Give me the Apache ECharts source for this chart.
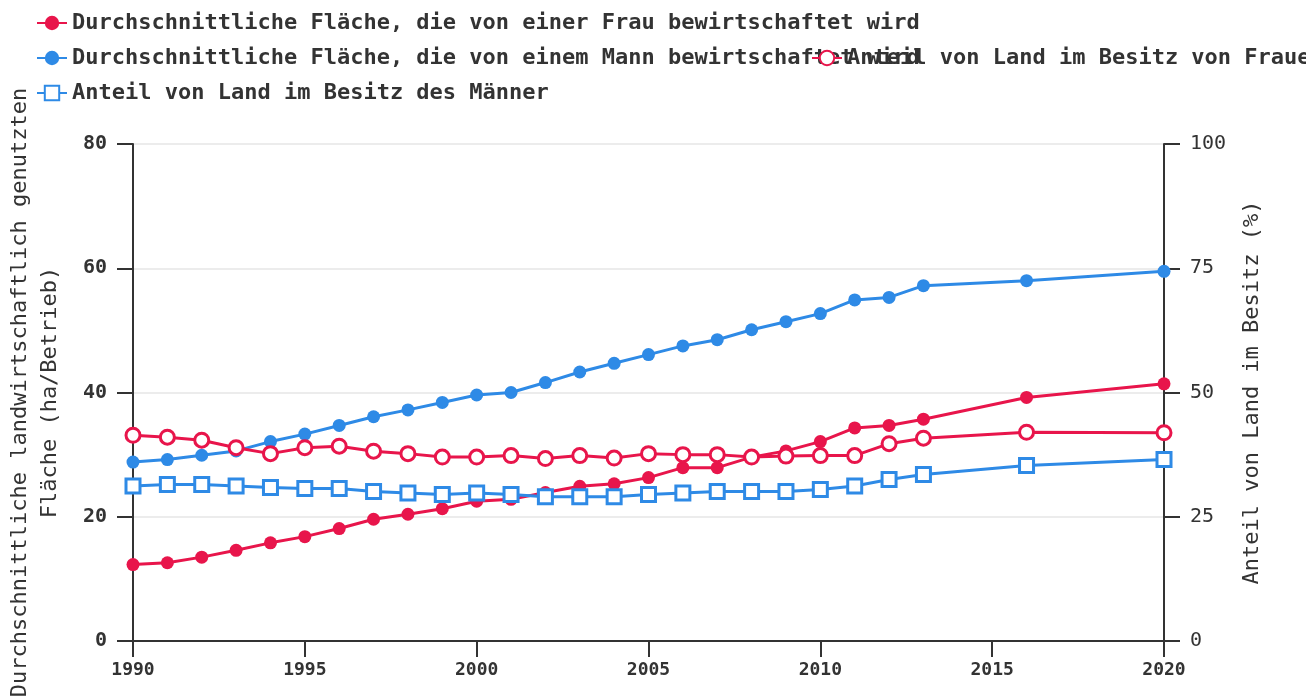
<!DOCTYPE html>
<html>
<head>
<meta charset="utf-8">
<script src="https://cdn.jsdelivr.net/npm/echarts@6/dist/echarts.min.js"></script>
<style>
html,body{margin:0;padding:0;background:#fff;}
#chart{width:1306px;height:696px;}
</style>
</head>
<body>
<div id="chart"></div>
<script>
const years = [1990,1991,1992,1993,1994,1995,1996,1997,1998,1999,2000,2001,2002,2003,2004,2005,2006,2007,2008,2009,2010,2011,2012,2013,2016,2020];
const areaWomen = [12.3,12.6,13.5,14.6,15.8,16.8,18.1,19.6,20.4,21.3,22.5,22.8,23.9,24.9,25.3,26.3,27.9,27.9,29.6,30.6,32.1,34.3,34.7,35.7,39.2,41.4];
const areaMen = [28.8,29.2,29.9,30.6,32.1,33.3,34.7,36.1,37.2,38.4,39.6,40.0,41.6,43.3,44.7,46.1,47.5,48.5,50.1,51.4,52.7,54.9,55.3,57.2,58.0,59.5];
const shareWomen = [41.4,41.0,40.4,38.9,37.7,38.9,39.2,38.2,37.7,37.0,37.0,37.3,36.7,37.3,36.8,37.7,37.5,37.5,37.0,37.2,37.3,37.3,39.7,40.8,42.0,41.9];
const shareMen = [31.2,31.5,31.5,31.2,30.9,30.7,30.7,30.1,29.8,29.5,29.8,29.5,29.0,29.0,29.0,29.5,29.8,30.1,30.1,30.1,30.5,31.2,32.5,33.5,35.3,36.5];
const names = [
  'Durchschnittliche Fläche, die von einer Frau bewirtschaftet wird',
  'Durchschnittliche Fläche, die von einem Mann bewirtschaftet wird',
  'Anteil von Land im Besitz von Frauen',
  'Anteil von Land im Besitz des Männer'
];
const RED = '#e8154b', BLUE = '#2e8ae6';
const FONT = 'DejaVu Sans Mono';
const pair = arr => years.map((y,i)=>[y,arr[i]]);

const legendBase = {
  itemWidth: 30, itemHeight: 18, itemGap: 0,
  textStyle: {fontFamily: FONT, fontSize: 22, fontWeight: 'bold', color: '#333'},
  padding: 0
};
const chart = echarts.init(document.getElementById('chart'));
chart.setOption({
  animation: false,
  legend: [
    Object.assign({}, legendBase, {left: 36, top: 12, data: [names[0]]}),
    Object.assign({}, legendBase, {left: 36, top: 47, data: [names[1]]}),
    Object.assign({}, legendBase, {left: 811, top: 47, data: [names[2]]}),
    Object.assign({}, legendBase, {left: 36, top: 82, data: [names[3]]})
  ],
  grid: {left: 133, right: 142, top: 144, bottom: 55, containLabel: false, outerBoundsMode: 'none'},
  xAxis: {
    type: 'value', min: 1990, max: 2020, interval: 5,
    axisLine: {lineStyle: {color: '#333', width: 2}},
    axisTick: {show: true, length: 16, lineStyle: {color: '#333', width: 2}},
    axisLabel: {formatter: v => String(v), fontFamily: FONT, fontSize: 18, fontWeight: 'bold', color: '#333', margin: 20},
    splitLine: {show: false}
  },
  yAxis: [{
    type: 'value', min: 0, max: 80, interval: 20, position: 'left',
    name: 'Durchschnittliche landwirtschaftlich genutzten\nFläche (ha/Betrieb)',
    nameLocation: 'middle', nameGap: 68,
    nameTextStyle: {fontFamily: FONT, fontSize: 22, color: '#333', lineHeight: 30},
    axisLine: {show: true, lineStyle: {color: '#333', width: 2}},
    axisTick: {show: true, length: 16, lineStyle: {color: '#333', width: 2}},
    axisLabel: {fontFamily: FONT, fontSize: 20, fontWeight: 'bold', color: '#333', margin: 26},
    splitLine: {show: true, lineStyle: {color: '#e6e6e6', width: 1.5}}
  },{
    type: 'value', min: 0, max: 100, interval: 25, position: 'right',
    name: 'Anteil von Land im Besitz (%)',
    nameLocation: 'middle', nameGap: 68,
    nameTextStyle: {fontFamily: FONT, fontSize: 22, color: '#333', lineHeight: 30},
    axisLine: {show: true, lineStyle: {color: '#333', width: 2}},
    axisTick: {show: true, length: 16, lineStyle: {color: '#333', width: 2}},
    axisLabel: {fontFamily: FONT, fontSize: 20, color: '#333', margin: 26},
    splitLine: {show: false}
  }],
  series: [
    {name: names[0], type: 'line', yAxisIndex: 0, data: pair(areaWomen), symbol: 'circle', symbolSize: 13,
      lineStyle: {color: RED, width: 3}, itemStyle: {color: RED}},
    {name: names[1], type: 'line', yAxisIndex: 0, data: pair(areaMen), symbol: 'circle', symbolSize: 13,
      lineStyle: {color: BLUE, width: 3}, itemStyle: {color: BLUE}},
    {name: names[2], type: 'line', yAxisIndex: 1, data: pair(shareWomen), symbol: 'circle', symbolSize: 14,
      lineStyle: {color: RED, width: 3}, itemStyle: {color: '#fff', borderColor: RED, borderWidth: 3}},
    {name: names[3], type: 'line', yAxisIndex: 1, data: pair(shareMen), symbol: 'rect', symbolSize: 14,
      lineStyle: {color: BLUE, width: 3}, itemStyle: {color: '#fff', borderColor: BLUE, borderWidth: 3}}
  ]
});
</script>
</body>
</html>
